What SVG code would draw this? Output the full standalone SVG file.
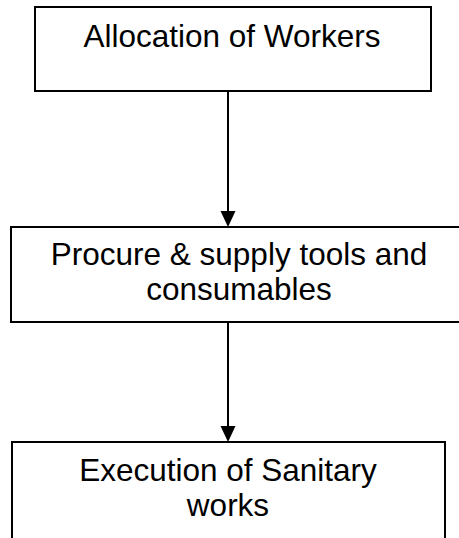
<svg xmlns="http://www.w3.org/2000/svg" width="459" height="538" viewBox="0 0 459 538">
<defs>
<style>
.box{fill:#fff;stroke:#000;stroke-width:2}
.lbl{font-family:"Liberation Sans",Arial,sans-serif;font-size:31.5px;fill:#000;text-anchor:middle}
.conn{stroke:#000;stroke-width:2;fill:none}
.head{fill:#000}
</style>
</defs>
<rect width="459" height="538" fill="#fff"/>
<g id="connectors">
<line class="conn" x1="228" y1="91" x2="228" y2="212"/>
<path class="head" d="M220.5,211 L235.5,211 L228,227 Z"/>
<line class="conn" x1="228" y1="322" x2="228" y2="427"/>
<path class="head" d="M220.5,426 L235.5,426 L228,442 Z"/>
</g>
<g id="node-allocation">
<rect class="box" x="35" y="7" width="396" height="84"/>
<text class="lbl" x="232" y="47">Allocation of Workers</text>
</g>
<g id="node-procure">
<rect class="box" x="11" y="227" width="470" height="95"/>
<text class="lbl" x="239" y="265">Procure &amp; supply tools and</text>
<text class="lbl" x="239" y="300">consumables</text>
</g>
<g id="node-execution">
<rect class="box" x="12" y="442" width="433" height="120"/>
<text class="lbl" x="228" y="481">Execution of Sanitary</text>
<text class="lbl" x="228" y="516">works</text>
</g>
</svg>
